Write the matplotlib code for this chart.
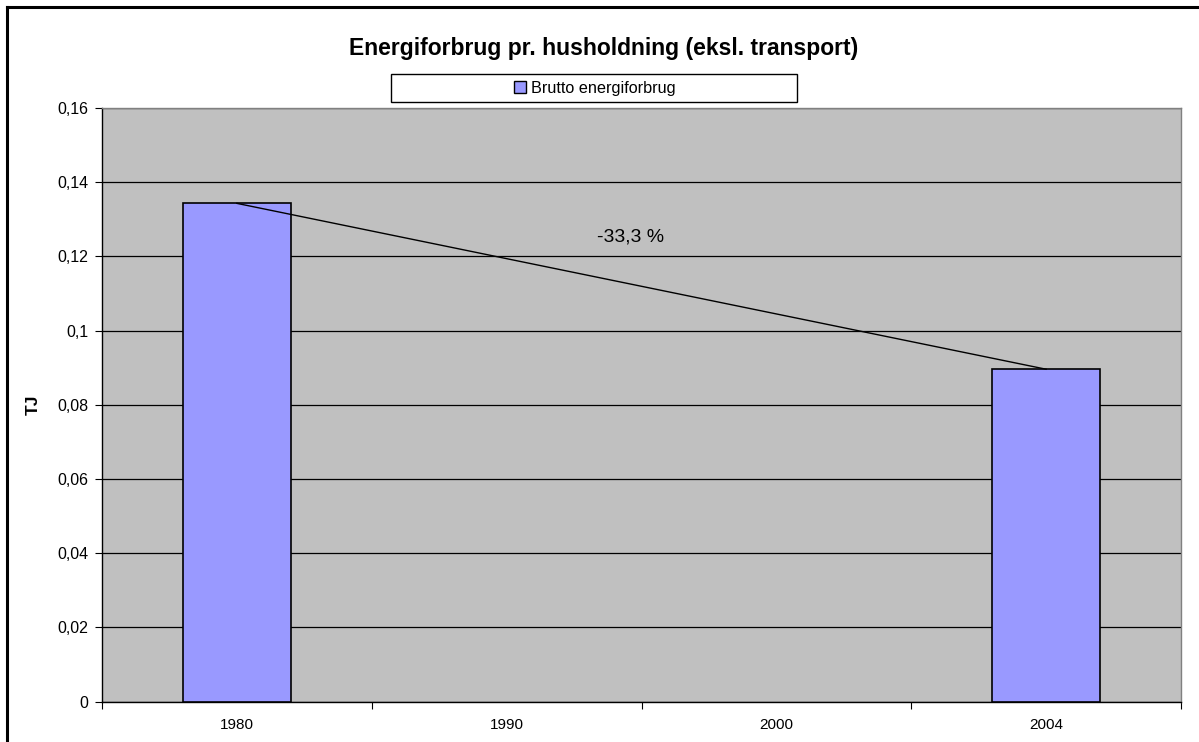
import numpy as np
import matplotlib
matplotlib.use("Agg")
import matplotlib.pyplot as plt
from matplotlib.patches import Rectangle, Patch
from matplotlib.lines import Line2D
from matplotlib.ticker import FuncFormatter

# data
years = ["1980", "1990", "2000", "2004"]
brutto = [0.1343, None, None, 0.0896]
change_label = "-33,3 %"

BAR = "#9999FF"
PLOT_BG = "#C0C0C0"
W, H = 1199, 742

plt.rcParams.update({
    "font.family": ["Liberation Sans", "DejaVu Sans"],
    "font.size": 10,
})

fig = plt.figure(figsize=(W / 100, H / 100), dpi=100)
fig.patch.set_facecolor("white")

# outer chart border (cropped on right/bottom in the reference)
fig.add_artist(Line2D([7 / W, 7 / W], [0, 1 - 7 / H], color="black", lw=2.2,
                      transform=fig.transFigure))
fig.add_artist(Line2D([7 / W, 1], [1 - 7 / H, 1 - 7 / H], color="black", lw=2.2,
                      transform=fig.transFigure))

ax = fig.add_axes([102 / W, 40.3 / H, 1079 / W, 593.7 / H])
ax.set_facecolor(PLOT_BG)

xs = np.arange(len(years))
have = [i for i, v in enumerate(brutto) if v is not None]
vals = [brutto[i] for i in have]
ax.bar(xs[have], vals, width=0.4, color=BAR, edgecolor="black", lw=1.2, zorder=3)
ax.plot(xs[have], vals, color="black", lw=1.0, zorder=4)

ax.text(1.46, 0.1253, change_label, ha="center", va="center", fontsize=14, zorder=5)

ax.set_xlim(-0.5, len(years) - 0.5)
ax.set_ylim(0, 0.16)
ax.set_yticks(np.arange(0, 0.161, 0.02))
ax.yaxis.set_major_formatter(FuncFormatter(
    lambda v, _: "0" if abs(v) < 1e-9 else f"{v:.2f}".rstrip("0").replace(".", ",")))
ax.grid(axis="y", color="black", lw=0.9)
ax.set_axisbelow(True)

# category ticks at boundaries, labels at centres
ax.set_xticks(np.arange(-0.5, len(years), 1.0))
ax.set_xticklabels([])
ax.set_xticks(xs, minor=True)
ax.set_xticklabels(years, minor=True)
ax.tick_params(axis="x", which="major", direction="out", length=5, color="black")
ax.tick_params(axis="x", which="minor", length=0, pad=12, labelsize=11)
ax.tick_params(axis="y", direction="out", length=5, color="black", labelsize=11.5, pad=5)

for s in ("top", "right"):
    ax.spines[s].set_color("#808080")
    ax.spines[s].set_linewidth(1.0)
for s in ("left", "bottom"):
    ax.spines[s].set_color("black")
    ax.spines[s].set_linewidth(1.0)

ax.set_ylabel("TJ", fontsize=12.5, fontweight="bold", labelpad=12)

fig.text(604 / W, 1 - 48 / H, "Energiforbrug pr. husholdning (eksl. transport)",
         ha="center", va="center", fontsize=16.5, fontweight="bold")

# legend box
fig.add_artist(Rectangle((391 / W, 1 - 102 / H), 406 / W, 28 / H,
                         transform=fig.transFigure, facecolor="white",
                         edgecolor="black", lw=1.0))
fig.legend(handles=[Patch(facecolor=BAR, edgecolor="black", lw=1.0,
                          label="Brutto energiforbrug")],
           loc="center", bbox_to_anchor=(595 / W, 1 - 88 / H), frameon=False,
           handlelength=0.75, handleheight=0.75, handletextpad=0.3,
           fontsize=11.7, borderpad=0)

fig.savefig("out.png", dpi=100)
